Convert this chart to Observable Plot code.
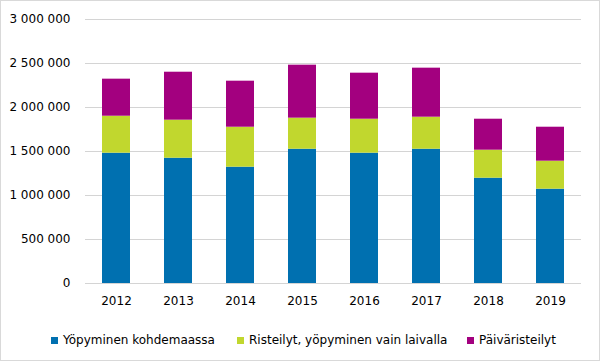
<!DOCTYPE html>
<html>
<head>
<meta charset="utf-8">
<script src="https://cdn.jsdelivr.net/npm/d3@7"></script>
<script src="https://cdn.jsdelivr.net/npm/@observablehq/plot@0.6"></script>
<style>
  html, body { margin: 0; padding: 0; background: #fff; }
  #wrap { position: relative; width: 600px; height: 361px; overflow: hidden; font-family: "DejaVu Sans", sans-serif; }
  #frame { position: absolute; left: 0; top: 0; width: 598px; height: 359px; border: 1px solid #d9d9d9; pointer-events: none; }
  #legend { position: absolute; left: 0; top: 332px; width: 600px; height: 16px; font-size: 12px; color: #000; }
  .item { position: absolute; top: 0; display: flex; align-items: center; white-space: nowrap; line-height: 16px; }
  .sw { width: 7px; height: 7px; margin-right: 5px; }
</style>
</head>
<body>
<div id="wrap">
  <div id="chart"></div>
  <div id="legend"></div>
  <div id="frame"></div>
</div>
<script>
const years = ["2012", "2013", "2014", "2015", "2016", "2017", "2018", "2019"];
const seriesNames = ["Yöpyminen kohdemaassa", "Risteilyt, yöpyminen vain laivalla", "Päiväristeilyt"];
const kohdemaassa = [1481000, 1424000, 1322000, 1526000, 1481000, 1526000, 1197000, 1072000];
const laivalla = [420000, 432000, 454000, 353000, 386000, 364000, 318000, 318000];
const paivaristeilyt = [421000, 545000, 523000, 602000, 523000, 557000, 352000, 386000];
const colors = ["#0070b0", "#c1d72e", "#a3007f"];
const yTicks = [0, 500000, 1000000, 1500000, 2000000, 2500000, 3000000];

const seriesValues = [kohdemaassa, laivalla, paivaristeilyt];
const data = [];
seriesNames.forEach((s, si) => {
  years.forEach((y, yi) => data.push({year: y, series: s, value: seriesValues[si][yi]}));
});

const fmt = v => d3.format(",")(v).replace(/,/g, " ");

const chart = Plot.plot({
  width: 600,
  height: 318,
  marginTop: 19,
  marginBottom: 35,
  marginLeft: 85,
  marginRight: 19,
  style: {fontFamily: "DejaVu Sans, sans-serif", fontSize: "12px", color: "#000", background: "transparent"},
  x: {domain: years, paddingInner: 0.55, paddingOuter: 0.275, label: null, tickSize: 0, tickPadding: 13},
  y: {domain: [0, 3000000], ticks: yTicks, tickFormat: fmt, label: null, tickSize: 0, tickPadding: 15},
  color: {domain: seriesNames, range: colors},
  marks: [
    Plot.ruleY(yTicks, {stroke: "#d4d4d4", strokeWidth: 1}),
    Plot.barY(data, {x: "year", y: "value", fill: "series", order: seriesNames})
  ]
});
chart.querySelectorAll("[aria-label='y-axis tick label'] text, [aria-label='x-axis tick label'] text").forEach(t => t.setAttribute("fill", "#000"));
document.getElementById("chart").appendChild(chart);

const legendPos = [51, 237, 467];
const legend = document.getElementById("legend");
seriesNames.forEach((s, i) => {
  const it = document.createElement("div");
  it.className = "item";
  it.style.left = legendPos[i] + "px";
  const sw = document.createElement("span");
  sw.className = "sw";
  sw.style.background = colors[i];
  const tx = document.createElement("span");
  tx.textContent = s;
  it.appendChild(sw);
  it.appendChild(tx);
  legend.appendChild(it);
});
</script>
</body>
</html>
